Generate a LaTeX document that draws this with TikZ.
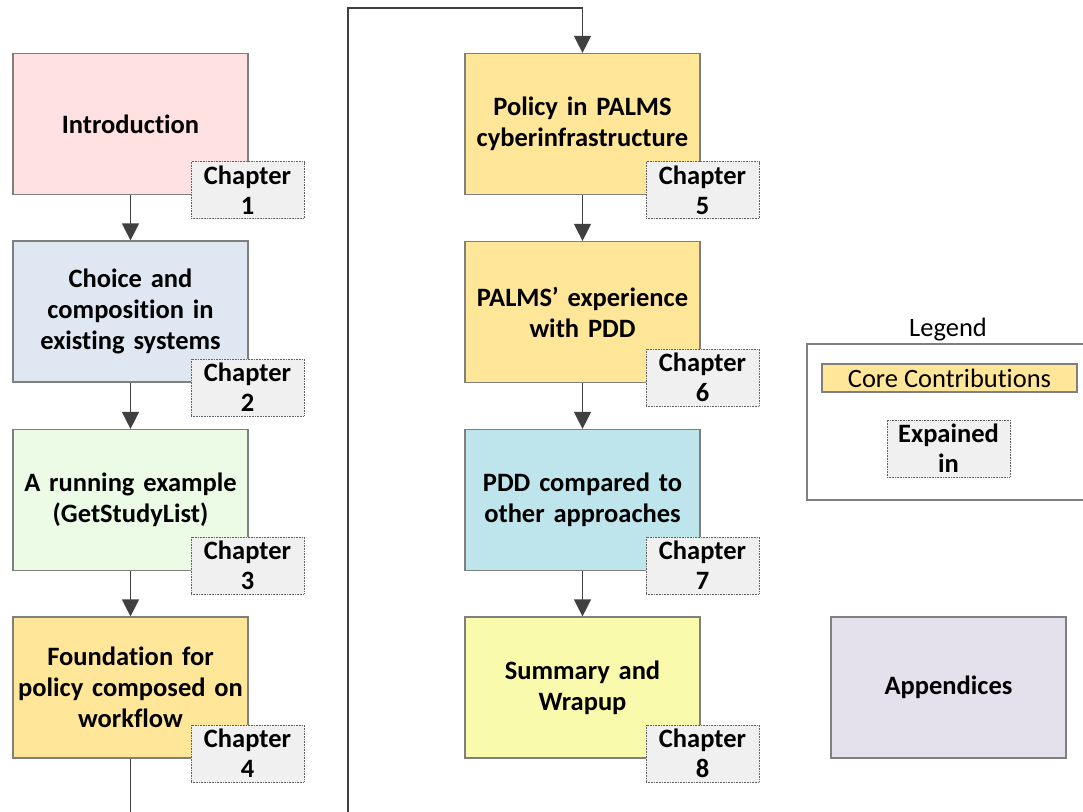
\documentclass[tikz,border=0pt]{standalone}
\usepackage{fontspec}
\setmainfont[Ligatures=NoCommon]{Carlito}
\usetikzlibrary{arrows.meta}

\definecolor{boxline}{HTML}{7F7F7F}
\definecolor{arrowcol}{HTML}{404040}
\definecolor{tagfill}{HTML}{F0F0F0}
\definecolor{tagline}{HTML}{606060}
\definecolor{introfill}{HTML}{FFE1E1}
\definecolor{choicefill}{HTML}{DFE8F2}
\definecolor{examplefill}{HTML}{EBFBE6}
\definecolor{corefill}{HTML}{FFE699}
\definecolor{comparefill}{HTML}{BEE5EB}
\definecolor{summaryfill}{HTML}{FAFAAD}
\definecolor{appfill}{HTML}{E4E0EC}

\tikzset{
  chapbox/.style={draw=boxline, line width=1.2pt, minimum width=235pt, minimum height=141pt,
    align=center, font=\fontsize{26.5}{31}\selectfont\bfseries, inner sep=0pt, text width=230pt},
  chaptag/.style={draw=tagline, dash pattern=on 0.8pt off 0.8pt, line width=0.8pt, fill=tagfill,
    minimum width=113pt, minimum height=57pt, inner sep=0pt, align=center, text width=110pt,
    font=\fontsize{26.5}{30}\selectfont\bfseries},
  flow/.style={draw=arrowcol, line width=1.3pt, -{Triangle[length=17pt,width=17pt]}},
}

\begin{document}
\begin{tikzpicture}[x=1pt,y=-1pt]
\clip (0,0) rectangle (1083,811);
\fill[white] (0,0) rectangle (1083,811);

% left column
\node[chapbox, fill=introfill]   (intro)   at (130.5,124)   {Introduction};
\node[chapbox, fill=choicefill]  (choice)  at (130.5,311.5) {Choice and\\composition in\\existing systems};
\node[chapbox, fill=examplefill] (example) at (130.5,500)   {A running example\\(GetStudyList)};
\node[chapbox, fill=corefill]    (found)   at (130.5,687.5) {Foundation for\\policy composed on\\workflow};

% right column
\node[chapbox, fill=corefill]    (policy)  at (582.5,124)   {Policy in PALMS\\cyberinfrastructure};
\node[chapbox, fill=corefill]    (exper)   at (582.5,312)   {PALMS’ experience\\with PDD};
\node[chapbox, fill=comparefill] (compare) at (582.5,500)   {PDD compared to\\other approaches};
\node[chapbox, fill=summaryfill] (summary) at (582.5,687.5) {Summary and\\Wrapup};

\node[chapbox, fill=appfill]     (app)     at (948.5,687.5) {Appendices};

% chapter tags
\node[chaptag] (t1) at (247.5,190)   {Chapter\\1};
\node[chaptag] (t2) at (247.5,387.5) {Chapter\\2};
\node[chaptag] (t3) at (247.5,565.5) {Chapter\\3};
\node[chaptag] (t4) at (247.5,753.5) {Chapter\\4};
\node[chaptag] (t5) at (702.5,190)   {Chapter\\5};
\node[chaptag] (t6) at (702.5,377.5) {Chapter\\6};
\node[chaptag] (t7) at (702.5,565.5) {Chapter\\7};
\node[chaptag] (t8) at (702.5,753.5) {Chapter\\8};

% flow between chapters
\draw[flow] (intro.south) -- (choice.north);
\draw[flow] (choice.south) -- (example.north);
\draw[flow] (example.south) -- (found.north);
\coordinate (low) at (348,840);
\coordinate (top) at (348,8);
\draw[flow] (found.south) |- (low) -- (top) -| (policy.north);
\draw[flow] (policy.south) -- (exper.north);
\draw[flow] (exper.south) -- (compare.north);
\draw[flow] (compare.south) -- (summary.north);

% legend
\node[font=\fontsize{26.5}{30}\selectfont] (legtitle) at (948,330) {Legend};
\node[draw=boxline, line width=1.2pt, minimum width=290pt, minimum height=156pt, inner sep=0pt]
  (legbox) at (952,422) {};
\node[draw=boxline, line width=1.2pt, fill=corefill, minimum width=255pt, minimum height=28pt,
  inner sep=0pt, font=\fontsize{26.5}{30}\selectfont] (legcore) at (949.5,378) {Core Contributions};
\node[chaptag, minimum width=123pt, text width=120pt] (legtag) at (948.5,448.5) {Expained\\in};
\end{tikzpicture}
\end{document}
